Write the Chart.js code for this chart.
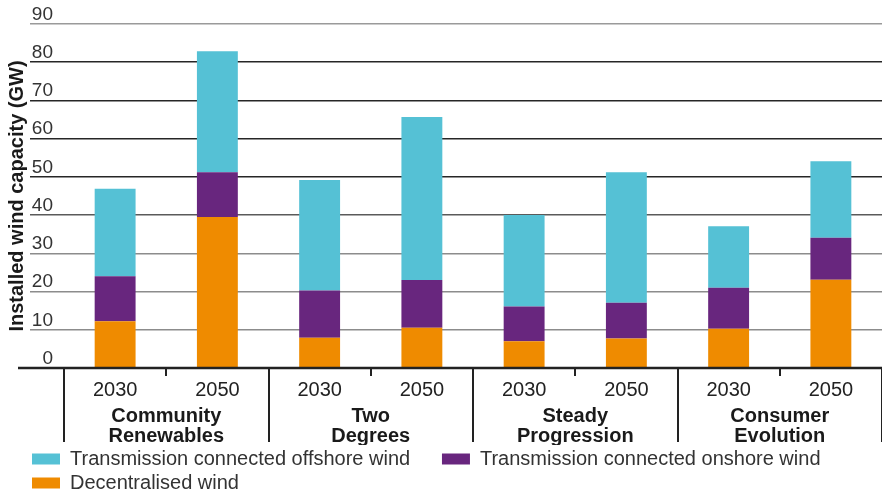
<!DOCTYPE html>
<html>
<head>
<meta charset="utf-8">
<script src="https://cdn.jsdelivr.net/npm/chart.js@4/dist/chart.umd.min.js"></script>
<style>
  body { margin: 0; background: #fff; }
</style>
</head>
<body>
<canvas id="grafica" width="882" height="495"></canvas>
<script>
// datos (GW)
var anios = ['2030', '2050', '2030', '2050', '2030', '2050', '2030', '2050'];
var escenarios = [['Community', 'Renewables'], ['Two', 'Degrees'], ['Steady', 'Progression'], ['Consumer', 'Evolution']];
var descentralizada = [12.2, 39.5, 7.9, 10.5, 7.0, 7.7, 10.3, 23.1];
var terrestre = [11.8, 11.7, 12.4, 12.5, 9.1, 9.4, 10.7, 11.0];
var marina = [22.9, 31.7, 28.9, 42.7, 23.9, 34.1, 16.1, 20.0];
var valoresY = [0, 10, 20, 30, 40, 50, 60, 70, 80, 90];

var fuente = "'Liberation Sans', Arial, sans-serif";

// linea del eje x, sale un poco a la izquierda
var lineaEje = {
  id: 'lineaEje',
  afterDraw: function(chart) {
    var ctx = chart.ctx;
    var y = chart.scales.y.getPixelForValue(0);
    ctx.save();
    ctx.strokeStyle = '#222';
    ctx.lineWidth = 2.5;
    ctx.beginPath();
    ctx.moveTo(18, y);
    ctx.lineTo(chart.chartArea.right, y);
    ctx.stroke();
    ctx.restore();
  }
};

function colorRejilla(c) {
  var v = c.tick ? c.tick.value : 0;
  if (v == 90) return '#9a9a9a';
  if (v >= 50) return '#262626';
  if (v == 40) return '#5a5a5a';
  return '#8c8c8c';
}

var grafica = document.getElementById('grafica').getContext('2d');
var chart = new Chart(grafica, {
  type: 'bar',
  data: {
    labels: anios,
    datasets: [{
      label: 'Decentralised wind',
      data: descentralizada,
      backgroundColor: '#ef8b00'
    }, {
      label: 'Transmission connected onshore wind',
      data: terrestre,
      backgroundColor: '#68267e'
    }, {
      label: 'Transmission connected offshore wind',
      data: marina,
      backgroundColor: '#55c1d5'
    }]
  },
  options: {
    responsive: false,
    animation: false,
    devicePixelRatio: 1,
    layout: { padding: { left: 28, top: 24, right: 0, bottom: 0 } },
    datasets: {
      bar: { categoryPercentage: 1, barPercentage: 0.4, borderWidth: 0 }
    },
    scales: {
      x: {
        stacked: true,
        weight: 1,
        offset: true,
        afterFit: function(s) { s.height = 0; },
        border: { display: false },
        grid: { offset: true, drawOnChartArea: false, drawTicks: true, tickLength: 8, color: '#222', lineWidth: 2 },
        // mirror para que no se recorten las etiquetas (el eje mide 0)
        ticks: { mirror: true, font: { family: fuente, size: 20 }, color: '#222', padding: -34, maxRotation: 0, autoSkip: false }
      },
      grupo: {
        type: 'category',
        position: 'bottom',
        labels: escenarios,
        weight: 2,
        offset: true,
        afterFit: function(s) { s.height = 77; },
        border: { display: false },
        grid: { offset: true, drawOnChartArea: false, drawTicks: true, tickLength: 74, color: '#222', lineWidth: 2 },
        ticks: { font: { family: fuente, size: 20, weight: 'bold', lineHeight: 1.0 }, color: '#1a1a1a', padding: -36, maxRotation: 0, autoSkip: false }
      },
      y: {
        stacked: true,
        min: 0,
        max: 90,
        afterFit: function(s) { s.width = 36; },
        afterBuildTicks: function(s) { s.ticks = valoresY.map(function(v) { return { value: v }; }); },
        border: { display: false },
        grid: { color: colorRejilla, lineWidth: 1.5, drawTicks: true, tickLength: 34 },
        ticks: { font: { family: fuente, size: 19 }, color: '#333', padding: -23, labelOffset: -9.5 },
        title: {
          display: true,
          text: 'Installed wind capacity (GW)',
          font: { family: fuente, size: 20, weight: 'bold' },
          color: '#1a1a1a',
          padding: { top: -23, bottom: 0 }
        }
      }
    },
    plugins: {
      tooltip: { enabled: false },
      legend: {
        position: 'bottom',
        align: 'start',
        reverse: true,
        maxHeight: 50,
        labels: {
          boxWidth: 28,
          boxHeight: 11,
          padding: 4,
          color: '#333',
          font: { family: fuente, size: 20 },
          generateLabels: function(c) {
            var items = Chart.defaults.plugins.legend.labels.generateLabels(c);
            items.forEach(function(it) {
              it.lineWidth = 0;
              if (it.datasetIndex == 2) it.text = it.text + '     ';
            });
            return items;
          }
        }
      }
    }
  },
  plugins: [lineaEje]
});
</script>
</body>
</html>
